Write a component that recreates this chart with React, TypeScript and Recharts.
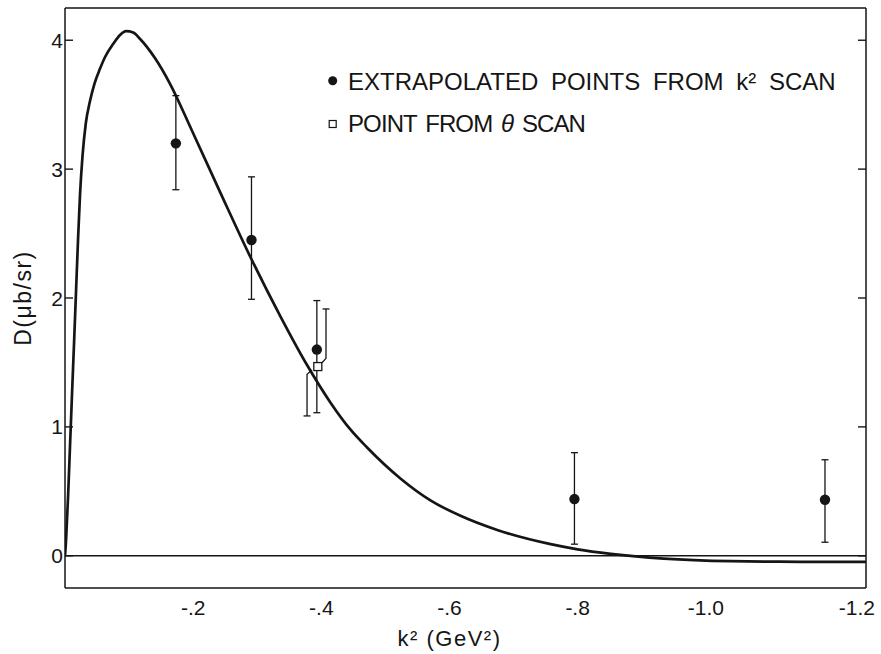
import React from 'react';
import { ComposedChart, Line, Scatter, XAxis, YAxis, ReferenceLine, ErrorBar, Legend, Label } from 'recharts';

// theoretical curve D(k^2)
const curveK = [0, -0.0016, -0.0047, -0.0078, -0.0109, -0.0141, -0.0172, -0.0203, -0.0234, -0.0273, -0.0323, -0.0391, -0.0458, -0.0547, -0.0625, -0.075, -0.0859, -0.0953, -0.1063, -0.1172, -0.1406, -0.1641, -0.198, -0.2422, -0.2891, -0.3359, -0.3777, -0.4141, -0.4453, -0.4714, -0.5234, -0.5703, -0.6172, -0.6745, -0.7578, -0.8, -0.8516, -0.9344, -1.0391, -1.1484, -1.25];
const curveD = [0, 0.12, 0.45, 0.85, 1.25, 1.65, 2.05, 2.45, 2.8, 3.1, 3.35, 3.53, 3.66, 3.78, 3.87, 3.97, 4.04, 4.07, 4.06, 4.01, 3.86, 3.66, 3.3, 2.82, 2.32, 1.86, 1.48, 1.19, 0.98, 0.84, 0.6, 0.43, 0.31, 0.2, 0.09, 0.05, 0.015, -0.022, -0.042, -0.047, -0.048];

// extrapolated points from k^2 scan
const scanK = [-0.173, -0.291, -0.393, -0.795, -1.186];
const scanD = [3.2, 2.45, 1.6, 0.44, 0.435];
const scanErrLow = [0.36, 0.46, 0.49, 0.35, 0.33];
const scanErrHigh = [0.37, 0.49, 0.38, 0.36, 0.31];

// point from theta scan, with its displaced (kinked) error bar
const thetaK = [-0.3945];
const thetaD = [1.468];
const thetaErrUpperK = [-0.4073, -0.4073, -0.4011];
const thetaErrUpperD = [1.915, 1.532, 1.498];
const thetaErrLowerK = [-0.3855, -0.3777, -0.3777];
const thetaErrLowerD = [1.441, 1.408, 1.085];
const thetaCapK = [-0.4073, -0.3777];
const thetaCapD = [1.915, 1.085];

// axes
const xTicks = [-0.2, -0.4, -0.6, -0.8, -1.0, -1.25];
const xTickLabels = ['-.2', '-.4', '-.6', '-.8', '-1.0', '-1.2'];
const xTickMarks = [-0.2, -0.4, -0.6, -0.8, -1.0];
const yTicks = [0, 1, 2, 3, 4];
const xDomain = [-1.25, 0];
const yDomain = [-0.25, 4.25];

const curveData = curveK.map((k, i) => ({ k, d: curveD[i] }));
const scanData = scanK.map((k, i) => ({ k, d: scanD[i], err: [scanErrLow[i], scanErrHigh[i]] }));
const thetaData = thetaK.map((k, i) => ({ k, d: thetaD[i] }));
const upperErrData = thetaErrUpperK.map((k, i) => ({ k, d: thetaErrUpperD[i] }));
const lowerErrData = thetaErrLowerK.map((k, i) => ({ k, d: thetaErrLowerD[i] }));
const capData = thetaCapK.map((k, i) => ({ k, d: thetaCapD[i] }));

const INK = '#151515';
const FONT = '"Liberation Sans", Arial, sans-serif';
const blank = () => '';
const THIN = 0.01;

const LeftTick = (p: any) => (
  <text x={p.x + 8} y={p.y} dy="0.36em" textAnchor="end" fontSize={21} fill={INK} fontFamily={FONT}>
    {p.payload.value}
  </text>
);

const BottomTick = (p: any) => {
  const idx = xTicks.indexOf(p.payload.value);
  const last = idx === xTicks.length - 1;
  return (
    <text
      x={last ? p.x + 9 : p.x}
      y={p.y}
      dy="0.71em"
      textAnchor={last ? 'end' : 'middle'}
      fontSize={21}
      fill={INK}
      fontFamily={FONT}
    >
      {xTickLabels[idx]}
    </text>
  );
};

const Dot = (p: any) => <circle cx={p.cx} cy={p.cy} r={5.2} fill={INK} />;
const Square = (p: any) => (
  <rect x={p.cx - 4} y={p.cy - 4} width={8} height={8} fill="#fff" stroke={INK} strokeWidth={1.3} />
);
const Cap = (p: any) => (
  <line x1={p.cx - 3.5} x2={p.cx + 3.5} y1={p.cy} y2={p.cy} stroke={INK} strokeWidth={1.3} />
);

const LegendBox = () => (
  <svg width={560} height={90} style={{ display: 'block', overflow: 'visible' }}>
    <circle cx={12.7} cy={22.7} r={4.5} fill={INK} />
    <text x={28} y={32} fontSize={24} fill={INK} fontFamily={FONT} wordSpacing={6}>
      EXTRAPOLATED POINTS FROM k² SCAN
    </text>
    <rect x={9.2} y={62.5} width={7} height={7} fill="#fff" stroke={INK} strokeWidth={1.2} />
    <text x={28} y={74} fontSize={24} fill={INK} fontFamily={FONT} wordSpacing={3} letterSpacing={-0.9}>
      POINT FROM <tspan fontStyle="italic">θ</tspan> SCAN
    </text>
  </svg>
);

const frame = { stroke: INK, strokeWidth: 1.5 };
const tickMark = { stroke: INK, strokeWidth: 1.4 };

export default function App() {
  return (
    <div style={{ position: 'absolute', left: 0, top: 0, fontFamily: FONT, background: '#fff' }}>
      <ComposedChart width={881} height={654} margin={{ top: 8, right: 15, bottom: 66, left: 65 }}>
        {/* main bottom axis: labels */}
        <XAxis
          dataKey="k"
          type="number"
          domain={xDomain}
          allowDataOverflow
          reversed
          ticks={xTicks}
          interval={0}
          tickSize={0}
          tickMargin={12}
          tickLine={false}
          tick={BottomTick}
          height={THIN}
          axisLine={frame}
        >
          <Label
            content={(p: any) => {
              const vb = p.viewBox || { x: 65, y: 588, width: 801, height: 0 };
              return (
                <text
                  x={vb.x + vb.width / 2 - 16}
                  y={vb.y + 58}
                  textAnchor="middle"
                  fontSize={22}
                  fill={INK}
                  fontFamily={FONT}
                  letterSpacing={1.5}
                >
                  k² (GeV²)
                </text>
              );
            }}
          />
        </XAxis>
        {/* inward tick marks on bottom */}
        <XAxis
          xAxisId="bt"
          orientation="bottom"
          mirror
          type="number"
          domain={xDomain}
          allowDataOverflow
          reversed
          ticks={xTickMarks}
          interval={0}
          tickSize={8}
          tickFormatter={blank}
          tickLine={tickMark}
          axisLine={false}
          height={THIN}
        />
        {/* top frame */}
        <XAxis
          xAxisId="top"
          orientation="top"
          type="number"
          domain={xDomain}
          allowDataOverflow
          reversed
          height={THIN}
          ticks={xTickMarks}
          tickFormatter={blank}
          tickLine={false}
          axisLine={frame}
        />
        {/* main left axis: labels */}
        <YAxis
          type="number"
          domain={yDomain}
          allowDataOverflow
          ticks={yTicks}
          interval={0}
          width={THIN}
          tickSize={0}
          tickMargin={10}
          tickLine={false}
          tick={LeftTick}
          axisLine={frame}
        >
          <Label
            content={(p: any) => {
              const vb = p.viewBox || { x: 65, y: 8, width: 0, height: 580 };
              const cx = vb.x - 42;
              const cy = vb.y + vb.height / 2;
              return (
                <text
                  x={cx}
                  y={cy}
                  transform={`rotate(-90 ${cx} ${cy})`}
                  textAnchor="middle"
                  dy="0.36em"
                  fontSize={23}
                  fill={INK}
                  fontFamily={FONT}
                  letterSpacing={1.5}
                >
                  D(μb/sr)
                </text>
              );
            }}
          />
        </YAxis>
        {/* inward tick marks on left */}
        <YAxis
          yAxisId="lt"
          orientation="left"
          mirror
          type="number"
          domain={yDomain}
          allowDataOverflow
          ticks={yTicks}
          interval={0}
          width={THIN}
          tickSize={8}
          tickFormatter={blank}
          tickLine={tickMark}
          axisLine={false}
        />
        {/* right frame with inward tick marks */}
        <YAxis
          yAxisId="right"
          orientation="right"
          mirror
          type="number"
          domain={yDomain}
          allowDataOverflow
          ticks={yTicks}
          interval={0}
          width={THIN}
          tickSize={8}
          tickFormatter={blank}
          tickLine={tickMark}
          axisLine={frame}
        />
        <ReferenceLine y={0} stroke={INK} strokeWidth={1.5} />
        <Line
          data={curveData}
          dataKey="d"
          type="monotone"
          stroke={INK}
          strokeWidth={2.7}
          dot={false}
          activeDot={false}
          isAnimationActive={false}
        />
        <Line
          data={upperErrData}
          dataKey="d"
          type="linear"
          stroke={INK}
          strokeWidth={1.3}
          dot={false}
          activeDot={false}
          isAnimationActive={false}
        />
        <Line
          data={lowerErrData}
          dataKey="d"
          type="linear"
          stroke={INK}
          strokeWidth={1.3}
          dot={false}
          activeDot={false}
          isAnimationActive={false}
        />
        <Scatter data={capData} dataKey="d" shape={Cap} isAnimationActive={false} />
        <Scatter data={scanData} dataKey="d" shape={Dot} isAnimationActive={false}>
          <ErrorBar dataKey="err" direction="y" width={3.5} stroke={INK} strokeWidth={1.3} />
        </Scatter>
        <Scatter data={thetaData} dataKey="d" shape={Square} isAnimationActive={false} />
        <Legend
          layout="vertical"
          verticalAlign="middle"
          align="center"
          wrapperStyle={{ position: 'absolute', left: 320, top: 58, width: 560, height: 90 }}
          content={LegendBox}
        />
      </ComposedChart>
    </div>
  );
}
